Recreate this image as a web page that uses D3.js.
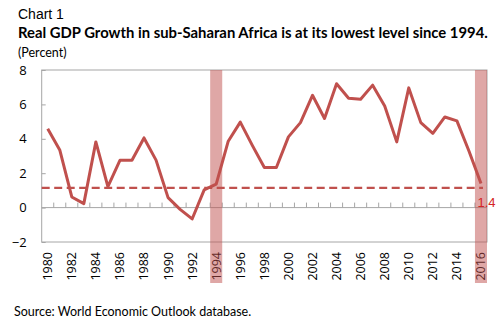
<!DOCTYPE html>
<html>
<head>
<meta charset="utf-8">
<script src="https://cdn.jsdelivr.net/npm/d3@7"></script>
<style>
  body { margin: 0; background: #fff; }
  svg { display: block; }
</style>
</head>
<body>
<svg id="chart" width="500" height="326"></svg>
<script>
// data
const years = [1980, 1981, 1982, 1983, 1984, 1985, 1986, 1987, 1988, 1989,
  1990, 1991, 1992, 1993, 1994, 1995, 1996, 1997, 1998, 1999,
  2000, 2001, 2002, 2003, 2004, 2005, 2006, 2007, 2008, 2009,
  2010, 2011, 2012, 2013, 2014, 2015, 2016]
const growth = [4.59, 3.35, 0.62, 0.23, 3.82, 1.22, 2.75, 2.75, 4.05, 2.76,
  0.58, -0.1, -0.66, 1.03, 1.36, 3.86, 4.97, 3.62, 2.33, 2.33,
  4.11, 4.94, 6.53, 5.18, 7.2, 6.36, 6.3, 7.12, 5.91, 3.82,
  6.96, 4.94, 4.32, 5.27, 5.04, 3.29, 1.4]
const yearLabels = [1980, 1982, 1984, 1986, 1988, 1990, 1992, 1994, 1996, 1998,
  2000, 2002, 2004, 2006, 2008, 2010, 2012, 2014, 2016]
const yTicks = [-2, 0, 2, 4, 6, 8]
const highlightYears = [1994, 2016]
const refLevel = 1.15
const refLabel = "1.4"

const svg = d3.select("#chart")
const plotL = 41.7, plotR = 487, plotT = 70, plotB = 242

const x = d3.scaleBand().domain(years).range([plotL, plotR])
const y = d3.scaleLinear().domain([-2, 8]).range([plotB, plotT])

const red = "#c0504d"
const grey = "#a6a6a6"
const axisFont = "'Open Sans', sans-serif"

// fit a text to a width by changing its font size
function fit(sel, w) {
  let len = sel.node().getComputedTextLength()
  let fs = parseFloat(sel.attr("font-size"))
  sel.attr("font-size", fs * w / len)
}

// titles
svg.append("text").attr("x", 18).attr("y", 19)
  .attr("font-family", "'Liberation Sans', Arial, sans-serif")
  .attr("font-size", 14).attr("fill", "#000")
  .text("Chart 1")
let title = svg.append("text").attr("x", 18).attr("y", 38)
  .attr("font-family", "Lato, sans-serif").attr("font-weight", "bold")
  .attr("font-size", 15).attr("fill", "#000")
  .text("Real GDP Growth in sub-Saharan Africa is at its lowest level since 1994.")
fit(title, 470)
svg.append("text").attr("x", 18).attr("y", 57)
  .attr("font-family", "Lato, sans-serif")
  .attr("font-size", 12.5).attr("fill", "#000")
  .text("(Percent)")

// plot frame
svg.append("rect")
  .attr("x", plotL).attr("y", plotT)
  .attr("width", plotR - plotL).attr("height", plotB - plotT)
  .attr("fill", "none").attr("stroke", grey).attr("stroke-width", 1)

// y axis, ticks pointing inward
let yAxis = svg.append("g")
  .attr("transform", `translate(${plotL},0)`)
  .call(d3.axisLeft(y).tickValues(yTicks).tickSizeInner(-4).tickSizeOuter(0).tickPadding(15))
yAxis.select(".domain").remove()
yAxis.selectAll("line").attr("stroke", grey)
yAxis.selectAll("text")
  .attr("font-family", axisFont).attr("font-size", 13).attr("fill", "#000")

// zero line with category ticks
svg.append("line")
  .attr("x1", plotL).attr("x2", plotR)
  .attr("y1", y(0)).attr("y2", y(0))
  .attr("stroke", grey)
svg.append("g").selectAll("line")
  .data(years.slice(1))
  .join("line")
  .attr("x1", d => x(d)).attr("x2", d => x(d))
  .attr("y1", y(0)).attr("y2", y(0) - 5)
  .attr("stroke", grey)

// x labels, rotated
let xAxis = svg.append("g")
  .attr("transform", `translate(0,${plotB})`)
  .call(d3.axisBottom(x).tickValues(yearLabels).tickSize(0))
xAxis.select(".domain").remove()
xAxis.selectAll("text")
  .attr("transform", "rotate(-90)")
  .attr("text-anchor", "end")
  .attr("x", -10).attr("y", 0).attr("dy", "0.36em")
  .attr("font-family", axisFont).attr("font-size", 12.5).attr("fill", "#000")

// highlight bands
svg.append("g").selectAll("rect")
  .data(highlightYears)
  .join("rect")
  .attr("x", d => x(d)).attr("y", plotT)
  .attr("width", x.bandwidth()).attr("height", 283 - plotT)
  .attr("fill", red).attr("fill-opacity", 0.5)

// reference level
svg.append("line")
  .attr("x1", plotL).attr("x2", x(2016) + x.bandwidth() / 2 + 2)
  .attr("y1", y(refLevel)).attr("y2", y(refLevel))
  .attr("stroke", red).attr("stroke-width", 2.2)
  .attr("stroke-dasharray", "8,4.5")

// growth line
let line = d3.line()
  .x((d, i) => x(years[i]) + x.bandwidth() / 2)
  .y(d => y(d))
svg.append("path")
  .datum(growth)
  .attr("d", line)
  .attr("fill", "none")
  .attr("stroke", red).attr("stroke-width", 3)
  .attr("stroke-linejoin", "round")

svg.append("text")
  .attr("x", 477.5).attr("y", 207)
  .attr("font-family", "'Liberation Sans', Arial, sans-serif")
  .attr("font-size", 13).attr("fill", "#d42424")
  .text(refLabel)

// source
svg.append("text").attr("x", 14).attr("y", 316)
  .attr("font-family", "Lato, sans-serif")
  .attr("font-size", 12.5).attr("fill", "#000")
  .text("Source: World Economic Outlook database.")
</script>
</body>
</html>
